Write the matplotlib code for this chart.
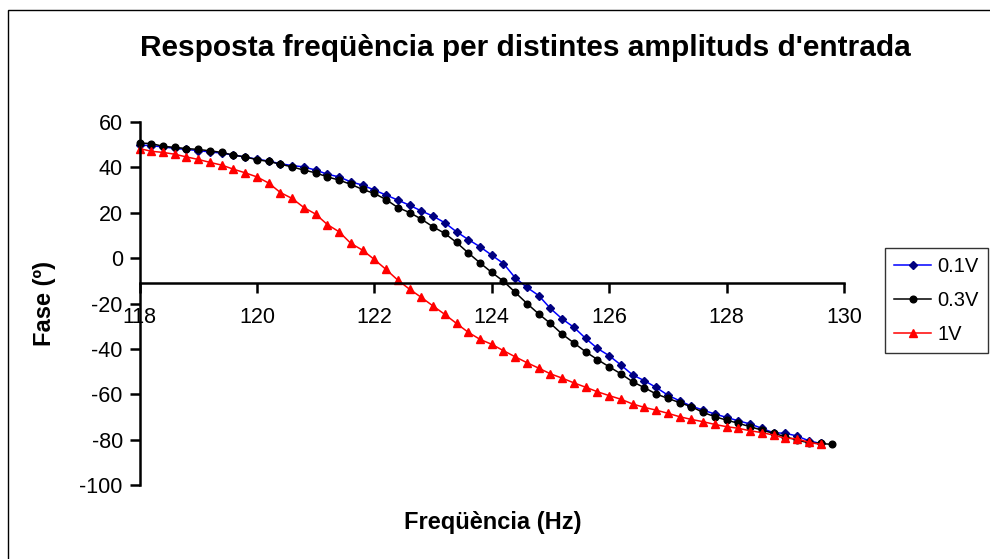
import numpy as np
import matplotlib
matplotlib.use("Agg")
import matplotlib.pyplot as plt
from matplotlib.patches import Rectangle

plt.rcParams['font.family'] = ['Liberation Sans', 'DejaVu Sans']
plt.rcParams['axes.unicode_minus'] = False

# frequencies every 0.2 Hz starting at 118 Hz
freq_03 = np.round(np.arange(118.0, 129.81, 0.2), 1)   # 60 points
freq_01 = freq_03[:59]
freq_1 = freq_03[:59]

fase_01 = [49.8, 49.6, 49.0, 48.4, 47.9, 47.4, 46.8, 46.3, 45.4, 44.6,
           43.6, 42.8, 41.6, 40.8, 40.2, 38.8, 37.0, 35.8, 33.6, 32.2,
           30.0, 27.8, 25.6, 23.3, 20.8, 18.5, 15.6, 11.6, 8.2, 5.0,
           1.3, -2.4, -8.7, -12.9, -16.5, -22.2, -26.8, -30.5, -35.4, -39.8,
           -43.0, -47.1, -51.5, -54.0, -57.0, -60.4, -62.9, -65.2, -67.0, -68.7,
           -70.2, -71.7, -73.1, -75.0, -77.0, -77.2, -78.4, -80.5, -81.7]

fase_03 = [50.7, 50.5, 49.3, 48.8, 48.3, 47.9, 47.3, 46.6, 45.4, 44.6,
           43.4, 42.6, 41.4, 40.2, 38.8, 37.6, 35.8, 34.4, 32.5, 30.3,
           28.5, 25.8, 22.3, 20.1, 17.2, 13.8, 10.9, 6.9, 2.3, -2.1,
           -6.3, -10.2, -15.1, -20.0, -24.6, -28.8, -33.5, -37.4, -41.3, -44.7,
           -47.9, -51.0, -54.5, -57.1, -59.9, -61.8, -63.7, -65.5, -68.0, -69.9,
           -71.4, -72.8, -74.3, -75.8, -77.2, -78.7, -80.2, -81.4, -81.7, -82.1]

fase_1 = [48.3, 47.1, 46.6, 45.8, 44.6, 43.5, 42.2, 41.0, 39.2, 37.6,
          35.8, 33.1, 28.9, 26.3, 22.3, 19.4, 14.8, 11.6, 6.5, 3.5,
          -0.6, -5.0, -9.7, -13.7, -17.3, -21.1, -24.8, -28.8, -32.7, -35.8,
          -38.0, -40.8, -43.5, -46.1, -48.5, -51.0, -52.9, -55.0, -56.9, -58.9,
          -60.6, -62.2, -64.3, -65.8, -67.0, -68.4, -69.9, -71.1, -72.1, -73.3,
          -74.3, -75.0, -76.1, -76.9, -78.0, -79.4, -79.6, -81.2, -82.1]

xticks = [118, 120, 122, 124, 126, 128, 130]
yticks = [-100, -80, -60, -40, -20, 0, 20, 40, 60]

fig = plt.figure(figsize=(9.9, 5.59), dpi=100)
ax = fig.add_axes([139.5 / 990, 1 - 485 / 559, (844 - 139.5) / 990, (485 - 122) / 559])

ax.plot(freq_01, fase_01, color='#0000FF', lw=1.1, marker='D', ms=4.5,
        mfc='#000080', mec='#000080', label='0.1V', clip_on=False)
ax.plot(freq_03, fase_03, color='black', lw=1.1, marker='o', ms=4.8,
        mfc='black', mec='black', label='0.3V', clip_on=False)
ax.plot(freq_1, fase_1, color='#FF0000', lw=1.1, marker='^', ms=6,
        mfc='#FF0000', mec='#FF0000', label='1V', clip_on=False)

ax.set_xlim(118, 130)
ax.set_ylim(-100, 60)
ax.set_xticks(xticks)
ax.set_yticks(yticks)
ax.spines['top'].set_visible(False)
ax.spines['right'].set_visible(False)
# horizontal axis crosses the vertical one below zero, as in the original
ax.spines['bottom'].set_position(('data', -11))
ax.spines['bottom'].set_linewidth(1.8)
ax.spines['left'].set_linewidth(1.8)
ax.tick_params(axis='both', labelsize=15.5, width=1.8, length=7, direction='out')
ax.tick_params(axis='x', pad=10)
ax.tick_params(axis='y', pad=5)
ax.set_facecolor('none')

fig.text(525 / 990, 1 - 48 / 559, "Resposta freqüència per distintes amplituds d'entrada",
         ha='center', va='center', fontsize=21.5, fontweight='bold')
fig.text(493 / 990, 1 - 523 / 559, 'Freqüència (Hz)', ha='center', va='center',
         fontsize=17, fontweight='bold')
fig.text(45 / 990, 1 - 303 / 559, 'Fase (º)', ha='center', va='center',
         rotation=90, fontsize=17, fontweight='bold')

leg = ax.legend(loc='upper left', bbox_to_anchor=(885 / 990, 1 - 248 / 559),
                bbox_transform=fig.transFigure, borderaxespad=0, fancybox=False,
                edgecolor='black', fontsize=14.5, handlelength=1.85,
                handletextpad=0.3, borderpad=0.45, labelspacing=0.75)
leg.get_frame().set_linewidth(1.0)

# chart area border
fig.patches.append(Rectangle((8 / 990, -0.05), 1.2, 1 - 10 / 559 + 0.05,
                             transform=fig.transFigure, fill=False,
                             edgecolor='black', linewidth=1.0))

fig.savefig('out.png', dpi=100)
